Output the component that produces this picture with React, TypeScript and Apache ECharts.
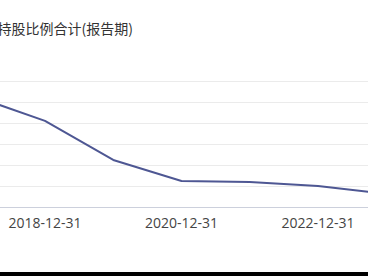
import React, { useEffect, useRef } from "react";
import * as echarts from "echarts";

const categories = ["2017-12-31", "2018-12-31", "2019-12-31", "2020-12-31", "2021-12-31", "2022-12-31", "2023-12-31"];
const values = [52.4, 41.0, 22.4, 12.4, 11.9, 10.0, 6.2];
const titleText = "机构持股比例合计(报告期)";

export default function App() {
  const ref = useRef<HTMLDivElement>(null);
  useEffect(() => {
    if (!ref.current) return;
    const chart = echarts.init(ref.current, undefined, { renderer: "svg" });
    chart.setOption({
      animation: false,
      backgroundColor: "#ffffff",
      graphic: [
        {
          type: "text",
          right: 600 - 99 - 133 - 1,
          top: 21,
          style: {
            text: titleText,
            font: '14px "Microsoft YaHei", "Noto Sans CJK SC", sans-serif',
            fill: "#333333",
          },
        },
      ],
      grid: { left: 76.75, width: 409.5, top: 81, bottom: 65 },
      xAxis: {
        type: "category",
        data: categories,
        boundaryGap: false,
        axisLine: { lineStyle: { color: "#ccd0dc" } },
        axisTick: { show: false },
        axisLabel: {
          interval: (i: number) => i % 2 === 1,
          color: "#444444",
          fontSize: 14,
          margin: 8,
          fontFamily: '"Open Sans", sans-serif',
        },
      },
      yAxis: {
        type: "value",
        min: 0,
        max: 60,
        interval: 10,
        axisLine: { show: false },
        axisTick: { show: false },
        axisLabel: { color: "#666" },
        splitLine: { lineStyle: { color: "#ebebeb" } },
      },
      series: [
        {
          type: "line",
          data: values,
          symbol: "none",
          lineStyle: { color: "#4e5793", width: 2 },
        },
      ],
    });
    return () => chart.dispose();
  }, []);
  return (
    <div style={{ position: "fixed", left: 0, top: 0, width: 368, height: 276, overflow: "hidden", background: "#000" }}>
      <div ref={ref} style={{ position: "absolute", left: -100, top: 0, width: 600, height: 272 }} />
    </div>
  );
}
